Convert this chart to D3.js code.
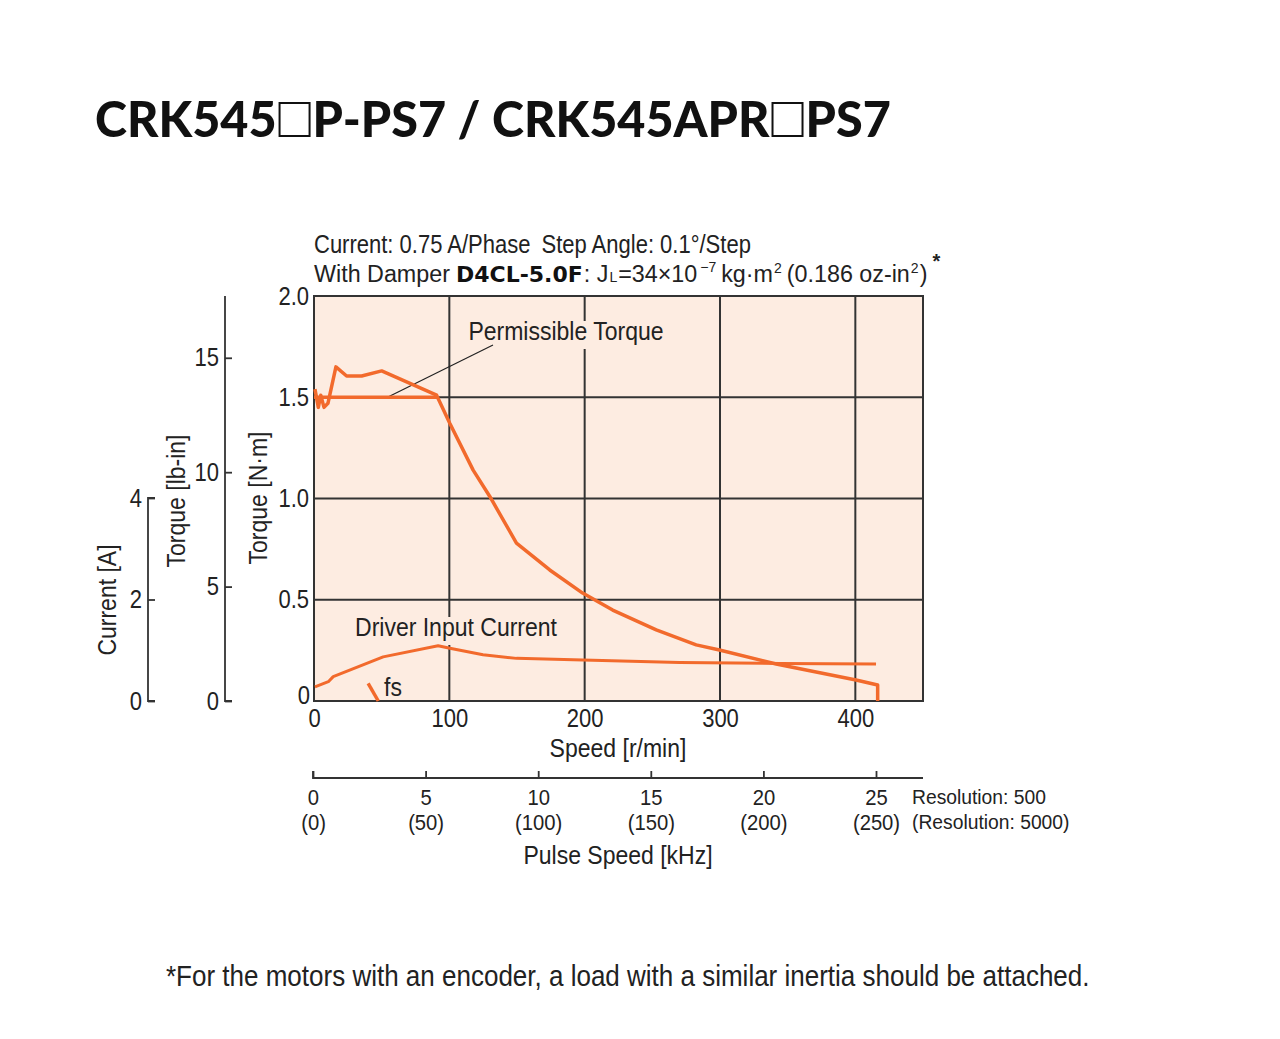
<!DOCTYPE html>
<html><head><meta charset="utf-8">
<script src="https://cdn.jsdelivr.net/npm/d3@7"></script>
<style>
body{margin:0;background:#fff;}
svg{display:block;}
text{font-family:"Liberation Sans Narrow","Arial Narrow","Liberation Sans",sans-serif;fill:#222;}
</style></head><body>
<svg id="c" width="1280" height="1039"></svg>
<script>
// ---- data ----
const speedTicks = [0, 100, 200, 300, 400];
const torqueTicksNm = [0, 0.5, 1.0, 1.5, 2.0];
const torqueTicksLbin = [0, 5, 10, 15];
const currentTicks = [0, 2, 4];
const pulseTicks = [0, 5, 10, 15, 20, 25];
const pulseTicks5000 = ["(0)", "(50)", "(100)", "(150)", "(200)", "(250)"];
// pull-out torque [r/min, N·m]
const pulloutSpeed = [0.7, 3.2, 5, 7.4, 10.3, 16.2, 24.1, 35.2, 50, 90.6, 100.4, 117.6, 129.9, 149.6, 174.2, 198.5, 220.7, 252.9, 282.4, 299.6, 341.5, 400.5, 416.5, 416.5];
const pulloutTorque = [1.54, 1.45, 1.51, 1.45, 1.47, 1.65, 1.605, 1.605, 1.63, 1.51, 1.37, 1.14, 1.01, 0.78, 0.647, 0.533, 0.449, 0.351, 0.277, 0.252, 0.183, 0.104, 0.079, 0];
// permissible torque
const permSpeed = [0, 91];
const permTorque = [1.5, 1.5];
// driver input current [r/min, A]
const currSpeed = [0.7, 10.6, 14.2, 51.1, 91.7, 100.4, 124.9, 149.6, 198.7, 270.1, 343.9, 415.3];
const currValue = [0.28, 0.38, 0.48, 0.87, 1.09, 1.04, 0.91, 0.84, 0.81, 0.76, 0.74, 0.73];
// starting frequency fs
const fsSpeed = [40, 47.5];
const fsTorque = [0.087, 0];

const ORANGE = "#f26a2c", FILL = "#fdece1", DARK = "#333";
const svg = d3.select("#c");

// ---- scales ----
const x = d3.scaleLinear().domain([0, 450]).range([314, 923]);
const y = d3.scaleLinear().domain([0, 2.0]).range([701, 296]);
const yLb = d3.scaleLinear().domain([0, 17.7]).range([701, 296]);
const yA = d3.scaleLinear().domain([0, 4]).range([701, 498]);
const xP = d3.scaleLinear().domain([0, 25]).range([313, 876]);

// ---- title ----
(function title(){
  const segs = ["CRK545", null, "P-PS7 / CRK545APR", null, "PS7"];
  const g = svg.append("g");
  let cx = 95; const base = 137;
  segs.forEach(s => {
    if (s === null) {
      g.append("rect").attr("x", cx + 3).attr("y", base - 34).attr("width", 30).attr("height", 33)
        .attr("fill", "#fff").attr("stroke", "#111").attr("stroke-width", 2);
      cx += 36;
    } else {
      const t = g.append("text").attr("class", "manual").attr("x", cx).attr("y", base).text(s)
        .style("font-family", "Lato, 'DejaVu Sans', sans-serif").style("font-weight", 900)
        .style("font-size", "48.5px").style("fill", "#111");
      cx += t.node().getComputedTextLength();
    }
  });
})();

// ---- header ----
svg.append("text").attr("x", 314).attr("y", 253).style("font-size", "22px").text("Current: 0.75 A/Phase\u2002Step Angle: 0.1\u00b0/Step");
(function line2(){
  const base = 282;
  const pieces = [
    {t: "With Damper", fs: 23.3, gap: 6},
    {t: "D4CL-5.0F", fs: 22, bold: true, gap: 1},
    {t: ": J", fs: 23.3, gap: 1},
    {t: "L", fs: 14, gap: 1},
    {t: "=34\u00d710", fs: 23.3, gap: 3},
    {t: "\u22127", fs: 14, dy: -10, gap: 5},
    {t: "kg\u00b7m", fs: 23.3, gap: 1},
    {t: "2", fs: 14, dy: -9, gap: 5},
    {t: "(0.186 oz-in", fs: 23.3, gap: 1},
    {t: "2", fs: 14, dy: -9, gap: 1},
    {t: ")", fs: 23.3, gap: 0}
  ];
  const g = svg.append("g");
  let cx = 314;
  pieces.forEach(p => {
    const t = g.append("text").attr("class", "manual").attr("x", cx).attr("y", base + (p.dy || 0))
      .style("font-size", p.fs + "px").text(p.t);
    if (p.bold) t.style("font-weight", "bold").style("font-family", "'DejaVu Sans',sans-serif").style("fill", "#111");
    cx += t.node().getComputedTextLength() + p.gap;
  });
  g.append("text").attr("class", "manual").attr("x", cx + 5).attr("y", 268).style("font-size", "20px").style("font-weight", "bold").text("*");
})();

// ---- plot background ----
svg.append("rect").attr("x", x(0)).attr("y", y(2)).attr("width", x(450) - x(0)).attr("height", y(0) - y(2))
  .attr("fill", FILL);

// gridlines
const grid = svg.append("g").attr("stroke", DARK).attr("stroke-width", 2);
[100, 200, 300, 400].forEach(v => grid.append("line").attr("x1", x(v)).attr("x2", x(v)).attr("y1", y(2)).attr("y2", y(0)));
[0.5, 1.0, 1.5].forEach(v => grid.append("line").attr("x1", x(0)).attr("x2", x(450)).attr("y1", y(v)).attr("y2", y(v)));

// curve labels with backgrounds
function label(txt, cxp, cyp, size) {
  const t = svg.append("text").attr("x", cxp).attr("y", cyp).attr("text-anchor", "middle")
    .style("font-size", size + "px").text(txt);
  const b = t.node().getBBox();
  svg.insert("rect", () => t.node()).attr("x", b.x - 3).attr("y", b.y + 2).attr("width", b.width + 6).attr("height", b.height + 2).attr("fill", FILL);
  return t;
}

// frame
svg.append("rect").attr("x", x(0)).attr("y", y(2)).attr("width", x(450) - x(0)).attr("height", y(0) - y(2))
  .attr("fill", "none").attr("stroke", DARK).attr("stroke-width", 2);

label("Permissible Torque", 566, 340, 23);
label("Driver Input Current", 456, 636, 23);
svg.append("text").attr("x", 384).attr("y", 696).style("font-size", "23px").text("fs");

// leader line
svg.append("line").attr("x1", 388).attr("y1", 397).attr("x2", 493).attr("y2", 345).attr("stroke", "#222").attr("stroke-width", 1.2);

// curves
const lineT = d3.line().x(d => x(d[0])).y(d => y(d[1]));
const lineA = d3.line().x(d => x(d[0])).y(d => yA(d[1]));
const curves = svg.append("g").attr("fill", "none").attr("stroke", ORANGE).attr("stroke-width", 3.5).attr("stroke-linejoin", "round");
curves.append("path").attr("d", lineT(permSpeed.map((s, i) => [s, permTorque[i]])));
curves.append("path").attr("d", lineT(pulloutSpeed.map((s, i) => [s, pulloutTorque[i]])));
curves.append("path").attr("d", lineA(currSpeed.map((s, i) => [s, currValue[i]]))).attr("stroke-width", 3);
curves.append("path").attr("d", lineT(fsSpeed.map((s, i) => [s, fsTorque[i]])));

// ---- axes ----
function styleAxis(g) {
  g.selectAll("text").style("font-size", "22px").style("font-family", "'Liberation Sans Narrow','Arial Narrow','Liberation Sans',sans-serif").attr("fill", "#222");
  g.selectAll("path,line").attr("stroke", DARK).attr("stroke-width", 1.8);
}
// speed axis (labels only)
const gx = svg.append("g").attr("transform", `translate(0,${y(0)})`)
  .call(d3.axisBottom(x).tickValues(speedTicks).tickSize(0).tickPadding(8));
gx.select(".domain").remove();
styleAxis(gx);
gx.selectAll("text").attr("dy", "0.71em");
// N·m axis
const gy = svg.append("g").attr("transform", `translate(${x(0)},0)`)
  .call(d3.axisLeft(y).tickValues(torqueTicksNm).tickSize(0).tickPadding(5).tickFormat(d => d === 0 ? "0" : d3.format(".1f")(d)));
gy.select(".domain").remove();
styleAxis(gy);
gy.selectAll("text").filter(d => d === 0).attr("dy", "0.1em").attr("x", -4);
// lb-in axis
const glb = svg.append("g").attr("transform", "translate(225,0)")
  .call(d3.axisRight(yLb).tickValues(torqueTicksLbin).tickSize(7).tickSizeOuter(0).tickFormat(d3.format("d")));
glb.selectAll(".tick text").attr("x", -6).attr("text-anchor", "end");
styleAxis(glb);
glb.select(".domain").attr("d", `M0,${yLb(17.7)}V${yLb(0)}H7`);
// current axis
const gA = svg.append("g").attr("transform", "translate(148,0)")
  .call(d3.axisRight(yA).tickValues(currentTicks).tickSize(7).tickSizeOuter(0).tickFormat(d3.format("d")));
gA.selectAll(".tick text").attr("x", -6).attr("text-anchor", "end");
styleAxis(gA);
gA.select(".domain").attr("d", `M7,${yA(4)}H0V${yA(0)}H7`);

// axis titles
svg.append("text").attr("transform", "translate(116,600) rotate(-90)").attr("text-anchor", "middle").style("font-size", "23px").text("Current [A]");
svg.append("text").attr("transform", "translate(185,501) rotate(-90)").attr("text-anchor", "middle").style("font-size", "23px").text("Torque [lb-in]");
svg.append("text").attr("transform", "translate(267,498) rotate(-90)").attr("text-anchor", "middle").style("font-size", "23px").text("Torque [N\u00b7m]");
svg.append("text").attr("x", 618).attr("y", 757).attr("text-anchor", "middle").style("font-size", "23px").text("Speed [r/min]");

// pulse axis
const gp = svg.append("g").attr("transform", "translate(0,778)")
  .call(d3.axisTop(xP).tickValues(pulseTicks).tickSize(7).tickSizeOuter(0).tickFormat(() => ""));
styleAxis(gp);
gp.select(".domain").attr("d", `M${xP(0)},-7V0H923`);
gp.selectAll(".tick").each(function(d, i) {
  const t = d3.select(this);
  t.append("text").attr("class", "manual").attr("y", 27).attr("text-anchor", "middle").style("font-size", "21.5px").text(pulseTicks[i]);
  t.append("text").attr("class", "manual").attr("y", 52).attr("text-anchor", "middle").style("font-size", "21.5px").text(pulseTicks5000[i]);
});
svg.append("text").attr("class", "manual").attr("x", 912).attr("y", 804).style("font-size", "20.5px").text("Resolution: 500");
svg.append("text").attr("class", "manual").attr("x", 912).attr("y", 829).style("font-size", "20.5px").text("(Resolution: 5000)");
svg.append("text").attr("x", 618).attr("y", 864).attr("text-anchor", "middle").style("font-size", "23px").text("Pulse Speed [kHz]");

// footnote
svg.append("text").attr("x", 166).attr("y", 986).style("font-size", "26px").text("*For the motors with an encoder, a load with a similar inertia should be attached.");

// ---- condense all plain texts: taller glyphs, same width (narrow face emulation) ----
svg.selectAll("text").each(function() {
  const el = d3.select(this);
  if (el.classed("manual")) return;
  const w = this.getComputedTextLength();
  const fs = parseFloat(getComputedStyle(this).fontSize);
  el.style("font-size", (fs * 1.15) + "px").attr("textLength", w).attr("lengthAdjust", "spacingAndGlyphs");
});
// narrow the pulse labels a little to match the condensed reference face
svg.selectAll("text.manual").filter(function() { return this.closest(".tick") || /Resolution/.test(this.textContent); }).each(function() {
  const w = this.getComputedTextLength();
  d3.select(this).attr("textLength", w * 0.94).attr("lengthAdjust", "spacingAndGlyphs");
});
</script>
</body></html>
